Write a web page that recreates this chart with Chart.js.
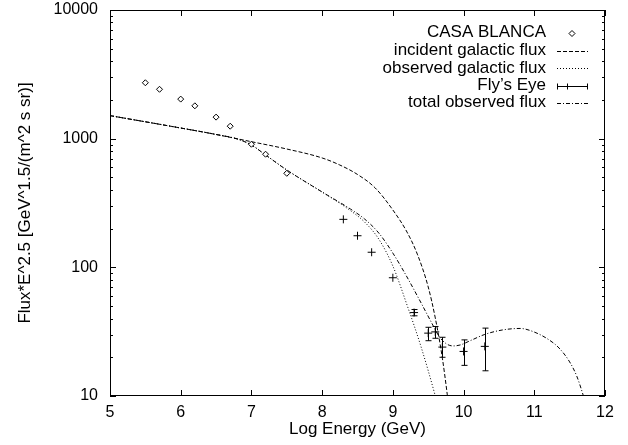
<!DOCTYPE html>
<html><head><meta charset="utf-8">
<script src="https://cdn.jsdelivr.net/npm/chart.js@4"></script>
<style>html,body{margin:0;padding:0;background:#fff}</style>
</head><body>
<canvas id="c" width="628" height="445" style="width:628px;height:445px;display:block"></canvas>
<script>
// ---- data ----
const xTicks = [5, 6, 7, 8, 9, 10, 11, 12];
const yTicks = [10, 100, 1000, 10000];

const casaX = [5.5, 5.7, 6.0, 6.2, 6.5, 6.7, 7.0, 7.2, 7.5];
const casaY = [2720, 2420, 2030, 1800, 1470, 1250, 905, 757, 538];

const flyX    = [8.3, 8.5, 8.7, 9.0, 9.3, 9.5, 9.6, 9.7, 10.0, 10.3];
const flyY    = [236, 176, 131, 83, 44.5, 30.8, 31.5, 24.0, 22.2, 24.3];
const flyLow  = [236, 176, 131, 83, 42.0, 26.9, 28.1, 20.0, 17.3, 15.7];
const flyHigh = [236, 176, 131, 83, 47.0, 34.2, 34.7, 28.6, 27.3, 33.7];

const incidentX = [5.0, 6.0, 6.5, 7.0, 7.5, 8.0, 8.25, 8.5, 8.75, 9.0, 9.2, 9.35, 9.5, 9.6, 9.7, 9.77, 9.82];
const incidentY = [1510, 1210, 1078, 947, 831, 708, 624, 527, 414, 279, 188, 125, 70.4, 40.4, 19.7, 10.2, 6.0];

const observedX = [5.0, 6.0, 6.5, 6.8, 7.0, 7.2, 7.5, 8.0, 8.4, 8.6, 8.8, 9.0, 9.2, 9.4, 9.6, 9.65];
const observedY = [1510, 1210, 1078, 994, 893, 747, 571, 385, 276, 225, 166, 102.4, 51, 24.0, 10.0, 7.8];

const totalX = [5.0, 6.0, 6.5, 6.8, 7.0, 7.2, 7.5, 8.0, 8.4, 8.6, 8.8, 9.0, 9.2, 9.4, 9.55, 9.65, 9.75, 9.85, 9.95, 10.1, 10.3, 10.55, 10.8, 11.0, 11.2, 11.35, 11.5, 11.6, 11.69, 11.75];
const totalY = [1510, 1210, 1078, 994, 893, 747, 571, 385, 284, 237.5, 185, 129, 84.1, 52.8, 36.9, 29.3, 25.6, 24.5, 24.9, 27.0, 30.1, 32.6, 33.5, 31.4, 27.5, 23.6, 18.4, 14.3, 10.2, 7.8];

const legendLabels = ['CASA BLANCA', 'incident galactic flux', 'observed galactic flux', "Fly\u2019s Eye", 'total observed flux'];

// ---- helpers ----
const pts = (xs, ys) => xs.map((v, i) => ({x: v, y: ys[i]}));
const FONT = 'Liberation Sans, Arial, Helvetica, sans-serif';
Chart.defaults.font.family = FONT;
Chart.defaults.font.size = 16;
Chart.defaults.color = '#000';

const DASH_INC = [4, 2], DASH_OBS = [1, 2], DASH_TOT = [4, 2, 1, 2];

const decor = {
  id: 'decor',
  afterDatasetsDraw(chart) {
    const {ctx, chartArea: a, scales: {x, y}} = chart;
    ctx.save();
    ctx.beginPath();
    ctx.rect(a.left, a.top, a.right - a.left, a.bottom - a.top);
    ctx.clip();
    ctx.strokeStyle = '#000';
    ctx.lineWidth = 1;
    ctx.setLineDash([]);
    flyX.forEach((v, i) => {
      if (flyLow[i] === flyHigh[i]) return;
      const px = Math.round(x.getPixelForValue(v)) + 0.5;
      const pl = y.getPixelForValue(flyLow[i]);
      const ph = y.getPixelForValue(flyHigh[i]);
      ctx.beginPath();
      ctx.moveTo(px, pl); ctx.lineTo(px, ph);
      ctx.moveTo(px - 3, pl); ctx.lineTo(px + 3, pl);
      ctx.moveTo(px - 3, ph); ctx.lineTo(px + 3, ph);
      ctx.stroke();
    });
    ctx.restore();
  },
  afterDraw(chart) {
    const {ctx, chartArea: a, scales: {x, y}} = chart;
    ctx.save();
    ctx.strokeStyle = '#000';
    ctx.lineWidth = 1;
    ctx.setLineDash([]);
    // frame
    ctx.strokeRect(Math.round(a.left) + 0.5, Math.round(a.top) + 0.5,
                   Math.round(a.right - a.left) - 1, Math.round(a.bottom - a.top) - 1);
    // x ticks, inward, mirrored
    ctx.beginPath();
    xTicks.forEach(v => {
      const px = Math.round(x.getPixelForValue(v)) + 0.5;
      ctx.moveTo(px, a.bottom); ctx.lineTo(px, a.bottom - 6);
      ctx.moveTo(px, a.top); ctx.lineTo(px, a.top + 6);
    });
    // y ticks major + minor
    for (let d = 0; d < yTicks.length; d++) {
      const base = yTicks[d];
      for (let m = 1; m <= 9; m++) {
        const v = base * m;
        if (v > yTicks[yTicks.length - 1]) break;
        const py = Math.round(y.getPixelForValue(v)) + 0.5;
        const len = m === 1 ? 6 : 3;
        ctx.moveTo(a.left, py); ctx.lineTo(a.left + len, py);
        ctx.moveTo(a.right, py); ctx.lineTo(a.right - len, py);
      }
    }
    ctx.stroke();

    // legend
    const textRight = 546, sx0 = 557, sx1 = 588, sc = 572;
    const rows = [32.5, 50.5, 68, 85.5, 102.5];
    ctx.font = '17px ' + FONT;
    ctx.fillStyle = '#000';
    ctx.textAlign = 'right';
    ctx.textBaseline = 'middle';
    legendLabels.forEach((t, i) => ctx.fillText(t, textRight, rows[i]));
    // CASA diamond
    ctx.beginPath();
    const r = 3, cy0 = Math.round(rows[0]) + 0.5;
    ctx.moveTo(sc - r, cy0); ctx.lineTo(sc, cy0 - r); ctx.lineTo(sc + r, cy0); ctx.lineTo(sc, cy0 + r); ctx.closePath();
    ctx.stroke();
    const lineSample = (row, dash) => {
      const yy = Math.round(row) + 0.5;
      ctx.setLineDash(dash);
      ctx.beginPath(); ctx.moveTo(sx0, yy); ctx.lineTo(sx1, yy); ctx.stroke();
      ctx.setLineDash([]);
    };
    lineSample(rows[1], DASH_INC);
    lineSample(rows[2], DASH_OBS);
    // Fly's Eye sample
    const fy = Math.round(rows[3]) + 0.5;
    ctx.beginPath();
    ctx.moveTo(sx0, fy); ctx.lineTo(sx1, fy);
    ctx.moveTo(sx0 + 0.5, fy - 3); ctx.lineTo(sx0 + 0.5, fy + 3);
    ctx.moveTo(sx1 - 0.5, fy - 3); ctx.lineTo(sx1 - 0.5, fy + 3);
    ctx.moveTo(sc - 4.5, fy - 3); ctx.lineTo(sc - 4.5, fy + 3);
    ctx.stroke();
    lineSample(rows[4], DASH_TOT);
    ctx.restore();
  }
};

new Chart(document.getElementById('c'), {
  type: 'scatter',
  data: {
    datasets: [
      {label: legendLabels[0], data: pts(casaX, casaY), showLine: false,
       pointStyle: 'rectRot', pointRadius: 3, pointBorderWidth: 1,
       pointBorderColor: '#000', pointBackgroundColor: '#fff'},
      {label: legendLabels[1], data: pts(incidentX, incidentY), showLine: true,
       borderColor: '#000', borderWidth: 1, borderDash: DASH_INC, pointRadius: 0,
       cubicInterpolationMode: 'monotone', fill: false},
      {label: legendLabels[2], data: pts(observedX, observedY), showLine: true,
       borderColor: '#000', borderWidth: 1, borderDash: DASH_OBS, pointRadius: 0,
       cubicInterpolationMode: 'monotone', fill: false},
      {label: legendLabels[3], data: pts(flyX, flyY), showLine: false,
       pointStyle: 'cross', pointRadius: 4, pointBorderWidth: 1, pointBorderColor: '#000'},
      {label: legendLabels[4], data: pts(totalX, totalY), showLine: true,
       borderColor: '#000', borderWidth: 1, borderDash: DASH_TOT, pointRadius: 0,
       cubicInterpolationMode: 'monotone', fill: false}
    ]
  },
  options: {
    responsive: false,
    animation: false,
    devicePixelRatio: 1,
    layout: {padding: {left: 0, right: 23, top: 10, bottom: 0}},
    plugins: {legend: {display: false}, tooltip: {enabled: false}},
    scales: {
      x: {
        type: 'linear', min: 5, max: 12,
        afterBuildTicks: s => { s.ticks = xTicks.map(v => ({value: v})); },
        afterFit: s => { s.height = 49; s.paddingLeft = 0; s.paddingRight = 0; },
        grid: {display: false, drawTicks: false},
        border: {display: false},
        ticks: {padding: 7, autoSkip: false, maxRotation: 0, callback: v => String(v)},
        title: {display: true, text: 'Log Energy (GeV)', font: {size: 17}, padding: {top: 0, bottom: 5}}
      },
      y: {
        type: 'logarithmic', min: 10, max: 10000,
        afterBuildTicks: s => { s.ticks = yTicks.map(v => ({value: v})); },
        afterFit: s => { s.width = 110; s.paddingTop = 0; s.paddingBottom = 0; },
        grid: {display: false, drawTicks: false},
        border: {display: false},
        ticks: {padding: 12, autoSkip: false, callback: v => String(v)},
        title: {display: true, text: 'Flux*E^2.5 [GeV^1.5/(m^2 s sr)]', font: {size: 17}, padding: {top: 15, bottom: 0}}
      }
    }
  },
  plugins: [decor]
});
</script>
</body></html>
